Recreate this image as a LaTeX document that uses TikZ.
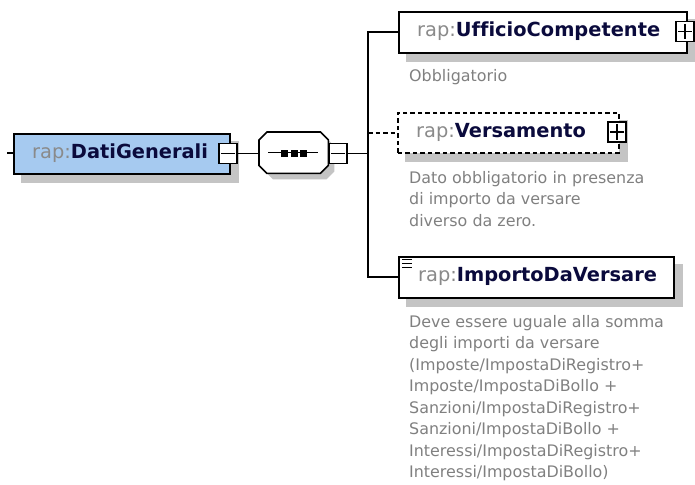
\documentclass[tikz,border=0pt]{standalone}
\usepackage{fontspec}
\setmainfont{DejaVu Sans}[Ligatures=NoCommon]
\usetikzlibrary{calc,backgrounds}
\definecolor{shadowgray}{HTML}{C4C4C4}
\definecolor{boxblue}{HTML}{A6CAF0}
\definecolor{prefixgray}{HTML}{8A8A8A}
\definecolor{namenavy}{HTML}{0A0A3C}
\definecolor{descgray}{HTML}{808080}
\begin{document}
\begin{tikzpicture}[x=1pt,y=-1pt,
  elembox/.style={draw=black, line width=1.7pt, fill=white, anchor=north west, inner sep=0pt},
  optbox/.style={elembox, line width=1.5pt, dash pattern=on 4.5pt off 3pt},
  signbox/.style={draw=black, line width=1.4pt, fill=white, inner sep=0pt, minimum width=18pt, minimum height=20pt},
  conn/.style={line width=1.9pt},
  sign/.style={line width=1.4pt},
  title/.style={anchor=west, inner sep=0pt, font=\fontsize{19.4}{23}\selectfont},
  desc/.style={anchor=base west, inner sep=0pt, align=left, text=descgray, font=\fontsize{15.9}{21.5}\selectfont},
  shadow/.style={fill=shadowgray},
]
\useasboundingbox (0,0) rectangle (695,484);

% element boxes
\node[elembox, fill=boxblue, minimum width=216pt, minimum height=40pt] (dg) at (13,133) {};
\node[draw=none, anchor=north west, inner sep=0pt, minimum width=69pt, minimum height=41pt] (seq) at (259,132) {};
\node[elembox, minimum width=288pt, minimum height=41pt] (uff) at (398,11) {};
\node[optbox, minimum width=221pt, minimum height=40pt] (ver) at (397,112) {};
\node[elembox, minimum width=275pt, minimum height=41pt] (imp) at (398,256) {};

% octagon of the sequence compositor
\draw[line width=1.6pt, fill=white]
  ($(seq.north west)+(8,0)$) -- ($(seq.north east)+(-8,0)$) -- ($(seq.north east)+(0,8)$)
  -- ($(seq.south east)+(0,-8)$) -- ($(seq.south east)+(-8,0)$) -- ($(seq.south west)+(8,0)$)
  -- ($(seq.south west)+(0,-8)$) -- ($(seq.north west)+(0,8)$) -- cycle;
\draw[line width=1.5pt] ($(seq.west)+(9,0)$) -- ($(seq.east)+(-10,0)$);
\foreach \cx in {284.5,294,303.5} {
  \fill[black] (\cx-3.5,150) rectangle (\cx+3.5,157);
}

% shadows
\begin{pgfonlayer}{background}
  \fill[shadow] ($(dg.north west)+(8,8)$) rectangle ($(dg.south east)+(8,8)$);
  \fill[shadow] ($(uff.north west)+(8,8)$) rectangle ($(uff.south east)+(8,8)$);
  \fill[shadow] ($(ver.north west)+(8,8)$) rectangle ($(ver.south east)+(8,8)$);
  \fill[shadow] ($(imp.north west)+(8,8)$) rectangle ($(imp.south east)+(8,8)$);
  \fill[shadow]
  ($(seq.north west)+(14,6)$) -- ($(seq.north east)+(-2,6)$) -- ($(seq.north east)+(6,14)$)
  -- ($(seq.south east)+(6,-2)$) -- ($(seq.south east)+(-2,6)$) -- ($(seq.south west)+(14,6)$)
  -- ($(seq.south west)+(6,-2)$) -- ($(seq.north west)+(6,14)$) -- cycle;
\end{pgfonlayer}

% expand / collapse boxes
\node[signbox] (dgm) at (228,153.5) {};
\draw[sign] ($(dgm.west)+(3,0)$) -- ($(dgm.east)+(-3,0)$);
\node[signbox] (seqm) at (338,153.5) {};
\draw[sign] ($(seqm.west)+(3,0)$) -- ($(seqm.east)+(-3,0)$);
\node[signbox] (uffp) at (685,31.5) {};
\draw[sign] ($(uffp.west)+(3,0)$) -- ($(uffp.east)+(-3,0)$);
\draw[sign] ($(uffp.north)+(0,3)$) -- ($(uffp.south)+(0,-3)$);
\node[signbox] (verp) at (617,132) {};
\draw[sign] ($(verp.west)+(3,0)$) -- ($(verp.east)+(-3,0)$);
\draw[sign] ($(verp.north)+(0,3)$) -- ($(verp.south)+(0,-3)$);

% simple content icon
\foreach \ly in {259.5,263.5,267.5} {
  \draw[line width=1.4pt] (402,\ly) -- (412,\ly);
}

% connectors
\coordinate (lstart) at (7,153);
\coordinate (bus) at (368,153.5);
\draw[conn] (lstart) -- (dg.west |- lstart);
\draw[conn] (dgm.east) -- (seq.west |- dgm.east);
\draw[conn] (seqm.east) -- (bus);
\draw[conn] (uff.west) -| (bus |- imp.west) -- (imp.west);
\draw[conn, line width=1.5pt, dash pattern=on 4.5pt off 3pt] (bus |- ver.west) -- (ver.west);

% titles
\node[title] (dgt) at (32,153) {\textcolor{prefixgray}{rap:}\textcolor{namenavy}{\bfseries DatiGenerali}};
\node[title] (ufft) at (417,31.5) {\textcolor{prefixgray}{rap:}\textcolor{namenavy}{\bfseries UfficioCompetente}};
\node[title] (vert) at (416,132) {\textcolor{prefixgray}{rap:}\textcolor{namenavy}{\bfseries Versamento}};
\node[title] (impt) at (418,276.5) {\textcolor{prefixgray}{rap:}\textcolor{namenavy}{\bfseries ImportoDaVersare}};

% descriptions (base anchor = baseline of the last line)
\node[desc] (uffd) at (409,82) {Obbligatorio};
\node[desc] (verd) at (409,226) {Dato obbligatorio in presenza\\di importo da versare\\diverso da zero.};
\node[desc] (impd) at (409,477.5) {Deve essere uguale alla somma\\degli importi da versare\\(Imposte/ImpostaDiRegistro+\\Imposte/ImpostaDiBollo +\\Sanzioni/ImpostaDiRegistro+\\Sanzioni/ImpostaDiBollo +\\Interessi/ImpostaDiRegistro+\\Interessi/ImpostaDiBollo)};
\end{tikzpicture}
\end{document}
